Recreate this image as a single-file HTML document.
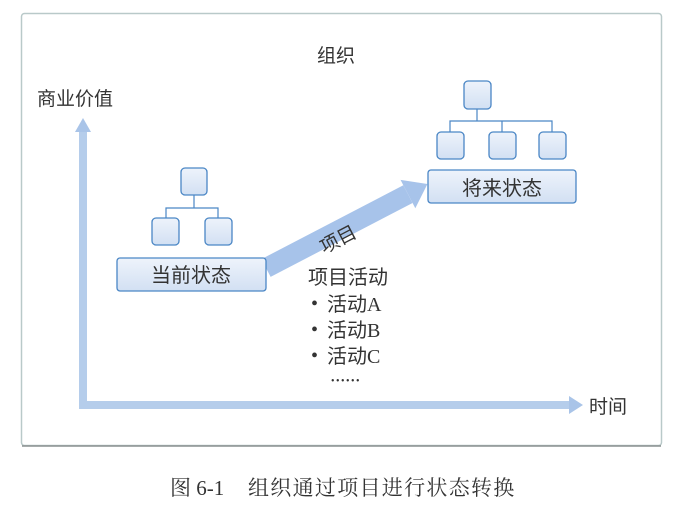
<!DOCTYPE html>
<html><head><meta charset="utf-8"><style>
html,body{margin:0;padding:0;background:#fff;}
svg{display:block;font-family:"Liberation Serif","Noto Sans CJK SC",sans-serif;}
</style></head><body>
<svg width="689" height="508" viewBox="0 0 689 508" xmlns="http://www.w3.org/2000/svg">
<defs>
<linearGradient id="bx" x1="0" y1="0" x2="0" y2="1">
<stop offset="0" stop-color="#eef3fb"/><stop offset="1" stop-color="#d2e0f3"/>
</linearGradient>
</defs>
<rect x="21.5" y="13.5" width="640" height="432" rx="3" fill="#fff" stroke="#b9c9c9" stroke-width="1.5"/>
<line x1="22" y1="446" x2="661" y2="446" stroke="#8a9090" stroke-width="1.5"/>
<rect x="79" y="128" width="8" height="280" fill="#b5cdeb"/>
<polygon points="83,118 75,132 91,132" fill="#a9c4e8"/>
<rect x="79" y="401" width="492" height="8" fill="#b5cdeb"/>
<polygon points="583,405 569,396 569,414" fill="#a9c4e8"/>
<g transform="translate(266,268) rotate(-27.5)">
<rect x="0" y="-10" width="160" height="20" fill="#a7c3ea"/>
<polygon points="160,-16 182,0 160,16" fill="#a7c3ea"/>
</g>
<text x="338" y="246" font-size="19" fill="#333" text-anchor="middle" transform="rotate(-27.5 338 239)" font-family="Noto Sans CJK SC, sans-serif">项目</text>
<g fill="url(#bx)" stroke="#4a86c5" stroke-width="1.3">
<rect x="181" y="168" width="26" height="27" rx="4"/>
<rect x="152" y="218" width="27" height="27" rx="4"/>
<rect x="205" y="218" width="27" height="27" rx="4"/>
<rect x="117" y="258" width="149" height="33" rx="3"/>
<rect x="464" y="81" width="27" height="28" rx="4"/>
<rect x="437" y="132" width="27" height="27" rx="4"/>
<rect x="489" y="132" width="27" height="27" rx="4"/>
<rect x="539" y="132" width="27" height="27" rx="4"/>
<rect x="428" y="170" width="148" height="33" rx="3"/>
</g>
<g fill="none" stroke="#4a86c5" stroke-width="1.2">
<path d="M194,195 V208 M166,218 V208 H218 V218"/>
<path d="M477,109 V121 M450,132 V121 H552 V132 M502,121 V132"/>
</g>
<g font-family="Noto Sans CJK SC, sans-serif" fill="#333">
<text x="191" y="282" font-size="20" text-anchor="middle">当前状态</text>
<text x="502" y="195" font-size="20" text-anchor="middle">将来状态</text>
<text x="336" y="62" font-size="19" text-anchor="middle">组织</text>
<text x="37" y="105" font-size="19">商业价值</text>
<text x="589" y="413" font-size="19">时间</text>
<text x="308" y="284" font-size="20">项目活动</text>
</g>
<g font-size="20" fill="#333">
<text x="311" y="310">•</text><text x="327" y="311">活动A</text>
<text x="311" y="336">•</text><text x="327" y="337">活动B</text>
<text x="311" y="362">•</text><text x="327" y="363">活动C</text>
<text x="331" y="384" font-size="10" letter-spacing="1.5">••••••</text>
</g>
<text x="170" y="495" font-size="21" fill="#333" font-family="Liberation Serif, Noto Serif CJK SC, serif">图 6-1</text>
<text x="248" y="495" font-size="21" letter-spacing="1.3" fill="#333" font-family="Noto Serif CJK SC, serif">组织通过项目进行状态转换</text>
</svg>
</body></html>
